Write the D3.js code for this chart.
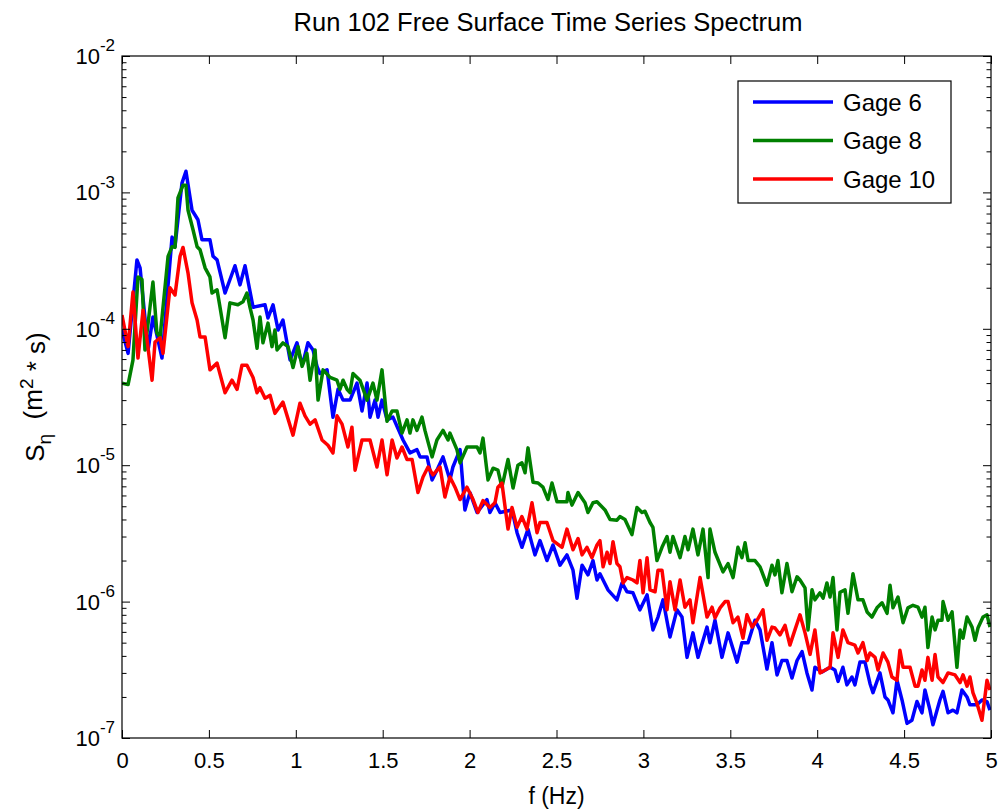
<!DOCTYPE html>
<html>
<head>
<meta charset="utf-8">
<script src="https://cdn.jsdelivr.net/npm/d3@7"></script>
<style>
  html, body { margin: 0; padding: 0; background: #fff; }
  svg { display: block; font-family: "Liberation Sans", Arial, sans-serif; }
</style>
</head>
<body>
<svg id="chart" width="1000" height="810"></svg>
<script>
const title = "Run 102 Free Surface Time Series Spectrum";
const xLabel = "f (Hz)";
const seriesNames = ["Gage 6", "Gage 8", "Gage 10"];
const seriesColors = ["#0000ff", "#008000", "#ff0000"];
const xTicks = [0, 0.5, 1, 1.5, 2, 2.5, 3, 3.5, 4, 4.5, 5];
const yTickExponents = [-7, -6, -5, -4, -3, -2];

const gage6 = [[0,9.8e-5],[0.035,6.6e-5],[0.086,3.2e-4],[0.104,2.8e-4],[0.15,7.0e-5],[0.178,1.22e-4],[0.23,6.1e-5],[0.288,4.7e-4],[0.305,4.0e-4],[0.345,1.17e-3],[0.368,1.43e-3],[0.403,7.4e-4],[0.437,6.3e-4],[0.46,4.5e-4],[0.506,4.5e-4],[0.524,3.4e-4],[0.547,3.2e-4],[0.593,1.83e-4],[0.65,2.9e-4],[0.679,2.1e-4],[0.708,2.9e-4],[0.754,1.44e-4],[0.823,1.5e-4],[0.84,1.2e-4],[0.869,1.5e-4],[0.898,9.8e-5],[0.926,1.16e-4],[0.967,5.9e-5],[1.007,7.9e-5],[1.024,6.2e-5],[1.041,5.6e-5],[1.07,7.9e-5],[1.099,7.0e-5],[1.122,5.3e-5],[1.139,4.7e-5],[1.18,5.0e-5],[1.214,2.25e-5],[1.243,3.6e-5],[1.272,3.0e-5],[1.312,3.0e-5],[1.352,4.0e-5],[1.381,2.5e-5],[1.41,4.0e-5],[1.427,2.25e-5],[1.456,3.0e-5],[1.473,2.25e-5],[1.496,3.0e-5],[1.525,2.15e-5],[1.559,2.25e-5],[1.617,1.53e-5],[1.657,1.23e-5],[1.697,1.3e-5],[1.715,1.15e-5],[1.755,1.15e-5],[1.784,7.8e-6],[1.812,9.2e-6],[1.847,1.15e-5],[1.887,7.8e-6],[1.904,9.7e-6],[1.945,1.3e-5],[1.973,4.7e-6],[2.002,6.3e-6],[2.043,4.5e-6],[2.1,5.6e-6],[2.117,4.5e-6],[2.146,5.3e-6],[2.175,4.5e-6],[2.244,4.7e-6],[2.273,3.2e-6],[2.301,2.5e-6],[2.336,3.4e-6],[2.376,2.2e-6],[2.405,2.8e-6],[2.445,2.0e-6],[2.48,2.6e-6],[2.52,1.85e-6],[2.56,2.2e-6],[2.595,1.7e-6],[2.618,1.06e-6],[2.647,1.85e-6],[2.681,1.57e-6],[2.71,2.0e-6],[2.733,1.44e-6],[2.75,1.6e-6],[2.796,1.22e-6],[2.848,1.03e-6],[2.877,1.37e-6],[2.906,1.18e-6],[2.94,1.16e-6],[2.98,8.7e-7],[3.021,1.12e-6],[3.055,6.2e-7],[3.084,7.7e-7],[3.113,1.03e-6],[3.153,5.5e-7],[3.193,8.7e-7],[3.222,7.7e-7],[3.251,3.9e-7],[3.285,5.9e-7],[3.314,3.9e-7],[3.366,6.5e-7],[3.383,5.0e-7],[3.412,7.3e-7],[3.452,3.9e-7],[3.487,5.9e-7],[3.539,3.6e-7],[3.567,5.0e-7],[3.602,5.0e-7],[3.642,7.3e-7],[3.671,6.2e-7],[3.711,3.2e-7],[3.74,5.0e-7],[3.769,2.9e-7],[3.797,3.7e-7],[3.826,3.7e-7],[3.855,2.75e-7],[3.884,3.7e-7],[3.913,4.3e-7],[3.941,3.0e-7],[3.97,2.25e-7],[3.987,3.3e-7],[4.028,3.05e-7],[4.074,3.3e-7],[4.102,3.15e-7],[4.12,2.6e-7],[4.148,3.3e-7],[4.171,2.45e-7],[4.2,2.8e-7],[4.217,2.45e-7],[4.246,3.6e-7],[4.275,3.6e-7],[4.304,2.5e-7],[4.321,2.15e-7],[4.361,3.0e-7],[4.39,2.0e-7],[4.407,1.9e-7],[4.436,1.53e-7],[4.459,2.65e-7],[4.488,1.9e-7],[4.517,1.28e-7],[4.545,1.35e-7],[4.574,1.85e-7],[4.603,1.53e-7],[4.62,2.25e-7],[4.649,1.6e-7],[4.666,1.25e-7],[4.706,1.9e-7],[4.724,2.2e-7],[4.753,1.53e-7],[4.781,1.6e-7],[4.804,1.53e-7],[4.833,2.25e-7],[4.862,2.0e-7],[4.879,1.75e-7],[4.919,1.75e-7],[4.948,1.9e-7],[4.977,1.85e-7],[4.994,1.6e-7]];

const gage8 = [[0,4.0e-5],[0.035,3.9e-5],[0.063,5.9e-5],[0.092,2.4e-4],[0.115,2.3e-4],[0.132,7.0e-5],[0.178,2.2e-4],[0.201,9.3e-5],[0.219,8.7e-5],[0.265,3.4e-4],[0.288,4.0e-4],[0.305,3.95e-4],[0.322,9.1e-4],[0.351,1.13e-3],[0.368,1.13e-3],[0.38,7.4e-4],[0.409,5.3e-4],[0.432,4.0e-4],[0.449,3.8e-4],[0.478,2.8e-4],[0.506,2.4e-4],[0.518,1.83e-4],[0.547,1.93e-4],[0.564,1.44e-4],[0.593,8.6e-5],[0.621,1.55e-4],[0.667,1.5e-4],[0.696,1.58e-4],[0.719,1.83e-4],[0.736,1.44e-4],[0.754,1.16e-4],[0.777,7.2e-5],[0.794,1.22e-4],[0.811,7.9e-5],[0.84,1.1e-4],[0.863,7.4e-5],[0.88,9.8e-5],[0.892,7.0e-5],[0.926,7.9e-5],[0.955,7.4e-5],[0.984,5.2e-5],[1.013,7.4e-5],[1.036,5.3e-5],[1.064,6.6e-5],[1.082,4.2e-5],[1.111,7.0e-5],[1.128,3.0e-5],[1.157,5.0e-5],[1.197,4.4e-5],[1.237,4.2e-5],[1.254,3.6e-5],[1.272,4.2e-5],[1.295,3.6e-5],[1.312,3.4e-5],[1.329,4.7e-5],[1.369,4.2e-5],[1.41,3.0e-5],[1.444,4.0e-5],[1.467,3.0e-5],[1.496,5.0e-5],[1.525,2.1e-5],[1.554,2.5e-5],[1.582,2.5e-5],[1.611,1.72e-5],[1.64,2.15e-5],[1.657,1.72e-5],[1.674,2.15e-5],[1.697,1.8e-5],[1.726,2.25e-5],[1.743,1.8e-5],[1.784,1.15e-5],[1.812,1.53e-5],[1.847,1.8e-5],[1.876,1.53e-5],[1.887,1.72e-5],[1.927,1.3e-5],[1.945,1.04e-5],[1.985,1.36e-5],[2.043,1.36e-5],[2.06,1.23e-5],[2.077,1.58e-5],[2.106,7.8e-6],[2.135,9.5e-6],[2.163,9.2e-6],[2.186,6.9e-6],[2.221,1.1e-5],[2.25,6.8e-6],[2.278,1.0e-5],[2.301,1.04e-5],[2.319,8.8e-6],[2.336,1.34e-5],[2.365,7.5e-6],[2.394,7.4e-6],[2.422,6.9e-6],[2.451,5.6e-6],[2.474,7.4e-6],[2.503,5.4e-6],[2.56,5.4e-6],[2.566,6.3e-6],[2.589,5.1e-6],[2.624,6.3e-6],[2.664,5.3e-6],[2.681,4.5e-6],[2.71,5.3e-6],[2.733,5.4e-6],[2.779,4.7e-6],[2.808,4.0e-6],[2.848,3.95e-6],[2.865,4.2e-6],[2.894,4.0e-6],[2.934,3.1e-6],[2.963,4.9e-6],[2.992,4.5e-6],[3.009,4.6e-6],[3.038,3.8e-6],[3.055,3.5e-6],[3.078,2.0e-6],[3.107,2.5e-6],[3.136,3.0e-6],[3.153,2.3e-6],[3.17,3.0e-6],[3.211,2.1e-6],[3.239,3.0e-6],[3.257,2.4e-6],[3.285,3.4e-6],[3.314,2.2e-6],[3.343,3.4e-6],[3.372,1.5e-6],[3.383,3.4e-6],[3.412,2.3e-6],[3.458,1.65e-6],[3.487,1.9e-6],[3.516,1.5e-6],[3.544,2.5e-6],[3.567,2.1e-6],[3.585,2.7e-6],[3.602,2.0e-6],[3.642,2.0e-6],[3.671,1.8e-6],[3.711,1.32e-6],[3.74,1.85e-6],[3.757,1.57e-6],[3.774,2.0e-6],[3.797,1.16e-6],[3.826,1.9e-6],[3.855,1.18e-6],[3.884,1.52e-6],[3.901,1.44e-6],[3.93,1.26e-6],[3.947,6.2e-7],[3.97,1.22e-6],[3.987,1.03e-6],[4.016,1.16e-6],[4.034,1.06e-6],[4.056,1.37e-6],[4.074,1.08e-6],[4.091,1.5e-6],[4.114,6.2e-7],[4.131,1.17e-6],[4.16,1.22e-6],[4.177,8.2e-7],[4.206,1.6e-6],[4.235,1.03e-6],[4.263,1.03e-6],[4.287,8.4e-7],[4.315,7.7e-7],[4.344,9.0e-7],[4.373,9.8e-7],[4.402,8.2e-7],[4.419,1.32e-6],[4.436,9.0e-7],[4.465,1.08e-6],[4.494,7.0e-7],[4.522,9.0e-7],[4.551,9.4e-7],[4.58,9.1e-7],[4.603,7.7e-7],[4.62,9.1e-7],[4.637,4.6e-7],[4.661,7.7e-7],[4.678,6.2e-7],[4.695,7.3e-7],[4.718,7.3e-7],[4.724,1.0e-6],[4.753,7.3e-7],[4.776,8.4e-7],[4.804,3.3e-7],[4.822,6.2e-7],[4.839,5.4e-7],[4.862,7.7e-7],[4.891,6.5e-7],[4.908,5.2e-7],[4.925,6.4e-7],[4.954,7.7e-7],[4.977,8.0e-7],[4.994,6.5e-7]];

const gage10 = [[0,1.26e-4],[0.035,7.4e-5],[0.063,1.86e-4],[0.092,6.1e-5],[0.121,1.37e-4],[0.144,8.3e-5],[0.173,4.2e-5],[0.19,8.0e-5],[0.219,8.6e-5],[0.236,6.6e-5],[0.276,2.0e-4],[0.305,1.77e-4],[0.334,3.4e-4],[0.351,3.95e-4],[0.38,2.56e-4],[0.403,1.55e-4],[0.432,1.16e-4],[0.449,8.7e-5],[0.478,8.7e-5],[0.506,5.0e-5],[0.547,5.6e-5],[0.593,3.4e-5],[0.633,4.2e-5],[0.662,3.6e-5],[0.69,5.4e-5],[0.719,5.4e-5],[0.754,4.4e-5],[0.777,3.4e-5],[0.794,3.7e-5],[0.823,3.1e-5],[0.852,3.25e-5],[0.88,2.4e-5],[0.926,2.9e-5],[0.984,1.66e-5],[1.024,2.85e-5],[1.053,2.3e-5],[1.082,2.0e-5],[1.111,2.15e-5],[1.151,1.53e-5],[1.185,1.4e-5],[1.214,1.23e-5],[1.237,2.3e-5],[1.266,2.0e-5],[1.3,1.36e-5],[1.323,1.9e-5],[1.341,9.2e-6],[1.381,1.53e-5],[1.427,1.53e-5],[1.467,9.7e-6],[1.496,1.53e-5],[1.525,8.5e-6],[1.554,1.53e-5],[1.582,1.13e-5],[1.611,1.36e-5],[1.64,1.1e-5],[1.669,1.1e-5],[1.703,6.3e-6],[1.732,8.2e-6],[1.761,9.7e-6],[1.789,8.5e-6],[1.83,9.7e-6],[1.858,5.85e-6],[1.887,8.2e-6],[1.916,6.9e-6],[1.945,5.6e-6],[1.985,6.9e-6],[2.02,5.6e-6],[2.048,4.5e-6],[2.077,5.5e-6],[2.117,4.9e-6],[2.146,5.3e-6],[2.163,6.9e-6],[2.186,7.4e-6],[2.221,3.4e-6],[2.244,4.9e-6],[2.273,3.5e-6],[2.301,4.2e-6],[2.33,3.4e-6],[2.359,5.3e-6],[2.388,3.2e-6],[2.405,3.8e-6],[2.445,3.8e-6],[2.48,2.8e-6],[2.532,2.5e-6],[2.56,3.4e-6],[2.595,2.4e-6],[2.624,2.9e-6],[2.647,2.2e-6],[2.675,2.5e-6],[2.704,2.1e-6],[2.733,2.6e-6],[2.75,2.8e-6],[2.768,1.8e-6],[2.791,2.3e-6],[2.808,1.9e-6],[2.825,2.75e-6],[2.848,1.9e-6],[2.865,1.8e-6],[2.883,1.37e-6],[2.906,1.5e-6],[2.94,1.44e-6],[2.963,1.37e-6],[2.98,2.0e-6],[2.998,1.16e-6],[3.021,2.1e-6],[3.038,1.22e-6],[3.067,1.18e-6],[3.084,1.7e-6],[3.107,1.7e-6],[3.136,8.7e-7],[3.153,1.4e-6],[3.182,8.7e-7],[3.211,1.44e-6],[3.239,9.1e-7],[3.268,1.03e-6],[3.285,7.0e-7],[3.326,1.5e-6],[3.366,7.7e-7],[3.395,9.1e-7],[3.412,7.6e-7],[3.441,9.0e-7],[3.47,1.0e-6],[3.487,1.0e-6],[3.516,7.0e-7],[3.544,7.7e-7],[3.573,5.4e-7],[3.596,8.0e-7],[3.625,6.5e-7],[3.654,7.3e-7],[3.688,8.7e-7],[3.711,5.2e-7],[3.74,6.5e-7],[3.757,6.4e-7],[3.786,5.7e-7],[3.815,6.7e-7],[3.843,4.8e-7],[3.872,6.2e-7],[3.901,8.0e-7],[3.93,5.9e-7],[3.959,4.1e-7],[3.987,6.2e-7],[4.016,3.0e-7],[4.074,3.3e-7],[4.091,5.9e-7],[4.12,3.9e-7],[4.148,6.2e-7],[4.177,5.0e-7],[4.217,4.8e-7],[4.235,4.2e-7],[4.263,5.0e-7],[4.287,3.7e-7],[4.304,4.2e-7],[4.333,3.9e-7],[4.35,3.15e-7],[4.379,4.2e-7],[4.407,3.6e-7],[4.43,2.8e-7],[4.459,2.65e-7],[4.476,4.4e-7],[4.494,3.3e-7],[4.534,3.3e-7],[4.563,2.4e-7],[4.58,2.4e-7],[4.603,3.15e-7],[4.62,2.65e-7],[4.637,3.9e-7],[4.661,2.65e-7],[4.678,4.1e-7],[4.695,2.8e-7],[4.724,2.55e-7],[4.753,3.0e-7],[4.793,2.9e-7],[4.822,2.55e-7],[4.839,2.9e-7],[4.862,2.4e-7],[4.879,2.8e-7],[4.896,2.15e-7],[4.919,1.8e-7],[4.948,1.35e-7],[4.977,2.65e-7],[4.994,2.25e-7]];

const allSeries = [gage6, gage8, gage10];

// ---------- layout ----------
const svg = d3.select("#chart");
const L = 122, R = 991, T = 56, B = 738;
const fontTick = 22, fontLabel = 23;

const x = d3.scaleLinear().domain([0, 5]).range([L, R]);
const y = d3.scaleLog().domain([1e-7, 1e-2]).range([B, T]);

svg.append("rect").attr("width", 1000).attr("height", 810).attr("fill", "#fff");

svg.append("defs").append("clipPath").attr("id", "clip")
  .append("rect").attr("x", L).attr("y", T).attr("width", R - L).attr("height", B - T);

// lines
const line = d3.line().x(d => x(d[0])).y(d => y(d[1]));
const gLines = svg.append("g").attr("clip-path", "url(#clip)");
allSeries.forEach((s, i) => {
  gLines.append("path").datum(s)
    .attr("d", line)
    .attr("fill", "none")
    .attr("stroke", seriesColors[i])
    .attr("stroke-width", 3.5)
    .attr("stroke-linejoin", "round");
});

// axes
const majorLen = 8, minorLen = 4.5;
const minorVals = [];
yTickExponents.slice(0, -1).forEach(e => { for (let k = 2; k <= 9; k++) minorVals.push(k * Math.pow(10, e)); });
const majorVals = yTickExponents.map(e => Math.pow(10, e));

function styleAxis(g) {
  g.select(".domain").remove();
  g.selectAll(".tick line").attr("stroke", "#000").attr("stroke-width", 1);
}

svg.append("g").attr("transform", `translate(0,${B})`)
  .call(d3.axisBottom(x).tickValues(xTicks).tickSizeInner(-majorLen).tickSizeOuter(0).tickPadding(14).tickFormat(d => d))
  .call(styleAxis)
  .call(g => g.selectAll(".tick text").attr("font-size", fontTick).attr("fill", "#000").attr("font-family", "Liberation Sans, Arial, sans-serif"));

svg.append("g").attr("transform", `translate(0,${T})`)
  .call(d3.axisTop(x).tickValues(xTicks).tickSizeInner(-majorLen).tickSizeOuter(0).tickFormat(""))
  .call(styleAxis);

svg.append("g").attr("transform", `translate(${L},0)`)
  .call(d3.axisLeft(y).tickValues(majorVals).tickSizeInner(-majorLen).tickSizeOuter(0).tickFormat(""))
  .call(styleAxis);
svg.append("g").attr("transform", `translate(${L},0)`)
  .call(d3.axisLeft(y).tickValues(minorVals).tickSizeInner(-minorLen).tickSizeOuter(0).tickFormat(""))
  .call(styleAxis);
svg.append("g").attr("transform", `translate(${R},0)`)
  .call(d3.axisRight(y).tickValues(majorVals).tickSizeInner(-majorLen).tickSizeOuter(0).tickFormat(""))
  .call(styleAxis);
svg.append("g").attr("transform", `translate(${R},0)`)
  .call(d3.axisRight(y).tickValues(minorVals).tickSizeInner(-minorLen).tickSizeOuter(0).tickFormat(""))
  .call(styleAxis);

// y tick labels 10^e
const yl = svg.append("g").attr("font-size", fontTick).attr("fill", "#000");
yTickExponents.forEach(e => {
  const t = yl.append("text").attr("x", 115).attr("y", y(Math.pow(10, e))).attr("text-anchor", "end");
  t.append("tspan").attr("dy", "0.36em").text("10");
  t.append("tspan").attr("dy", "-0.75em").attr("font-size", 17).text(String(e));
});

// box
svg.append("rect").attr("x", L).attr("y", T).attr("width", R - L).attr("height", B - T)
  .attr("fill", "none").attr("stroke", "#000").attr("stroke-width", 1.2);

// title
svg.append("text").attr("x", 548).attr("y", 31).attr("text-anchor", "middle")
  .attr("font-size", 25.5).attr("fill", "#000").text(title);

// x label
svg.append("text").attr("x", (L + R) / 2).attr("y", 804).attr("text-anchor", "middle")
  .attr("font-size", fontLabel).attr("fill", "#000").text(xLabel);

// y label
const ylab = svg.append("text")
  .attr("transform", `translate(44,${(T + B) / 2}) rotate(-90)`)
  .attr("text-anchor", "middle").attr("font-size", 26).attr("fill", "#000");
ylab.append("tspan").text("S");
ylab.append("tspan").attr("dy", "0.35em").attr("font-size", 19).text("η");
ylab.append("tspan").attr("dy", "-0.35em").attr("xml:space", "preserve").text("\u00a0\u00a0(m");
ylab.append("tspan").attr("dy", "-0.45em").attr("font-size", 19).text("2");
ylab.append("tspan").attr("dy", "0.45em").text("\u00a0*\u00a0s)");

// legend
const lg = svg.append("g");
lg.append("rect").attr("x", 738).attr("y", 81).attr("width", 213).attr("height", 122)
  .attr("fill", "#fff").attr("stroke", "#000").attr("stroke-width", 1.2);
const legY = d3.scalePoint().domain(seriesNames).range([102, 179]);
seriesNames.forEach((n, i) => {
  lg.append("line").attr("x1", 753).attr("x2", 833).attr("y1", legY(n)).attr("y2", legY(n))
    .attr("stroke", seriesColors[i]).attr("stroke-width", 3.5);
  lg.append("text").attr("x", 843).attr("y", legY(n)).attr("dy", "0.36em")
    .attr("font-size", 24).attr("fill", "#000").text(n);
});
</script>
</body>
</html>
